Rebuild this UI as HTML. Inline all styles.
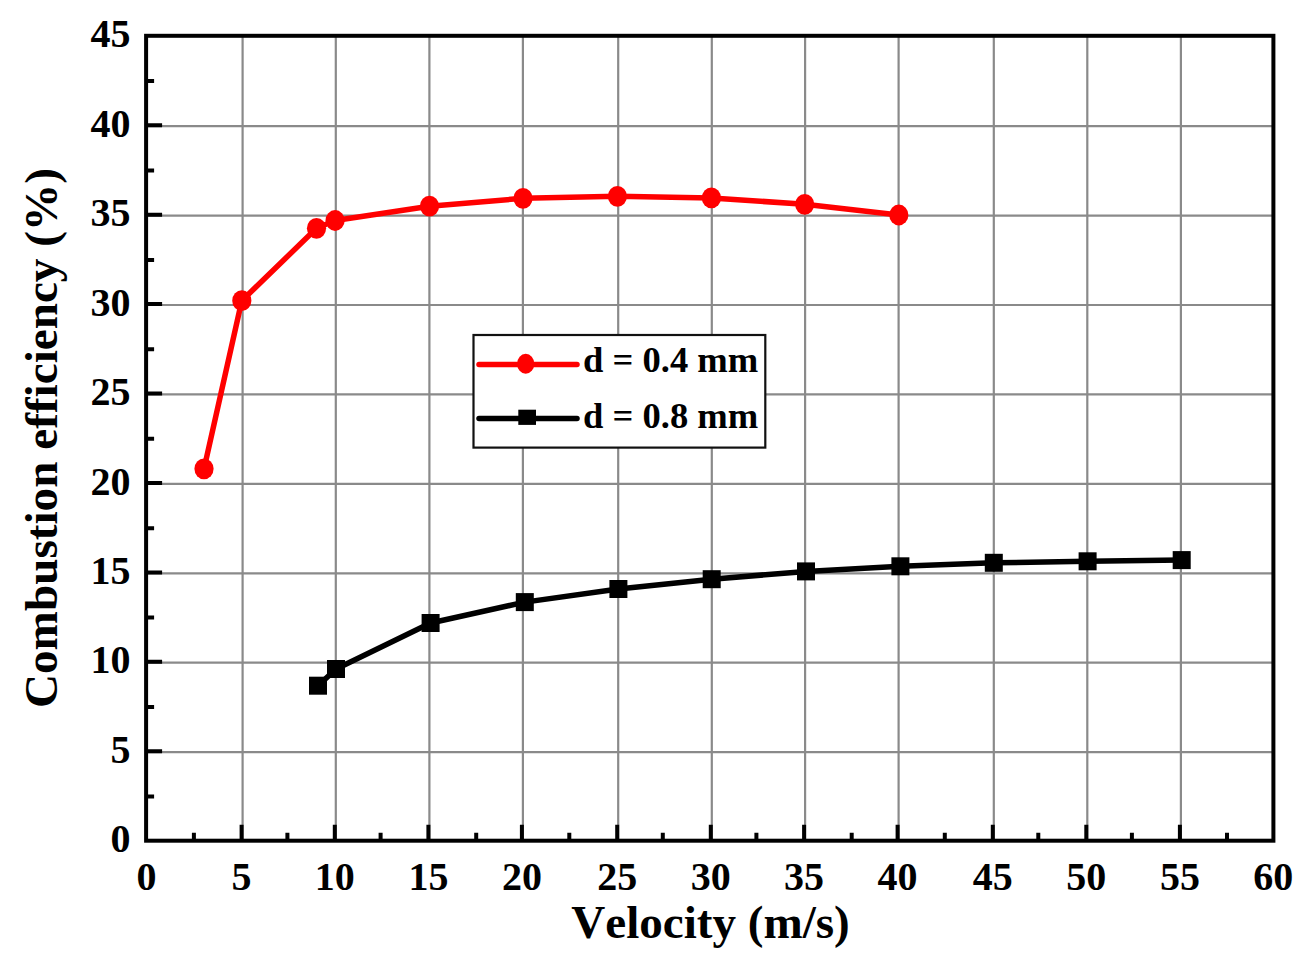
<!DOCTYPE html><html><head><meta charset="utf-8"><style>html,body{margin:0;padding:0;background:#fff;}svg{display:block;}text{font-family:"Liberation Serif",serif;font-weight:bold;fill:#000;font-kerning:none;font-variant-ligatures:none;}</style></head><body>
<svg width="1306" height="964" viewBox="0 0 1306 964">
<rect width="1306" height="964" fill="#fff"/>
<path d="M242.6 35.8V840.7 M335.8 35.8V840.7 M429.4 35.8V840.7 M522.9 35.8V840.7 M618.2 35.8V840.7 M711.8 35.8V840.7 M805.1 35.8V840.7 M898.6 35.8V840.7 M993.8 35.8V840.7 M1087.3 35.8V840.7 M1180.9 35.8V840.7 M146.1 752.2H1273.4 M146.1 662.7H1273.4 M146.1 573.3H1273.4 M146.1 483.9H1273.4 M146.1 394.4H1273.4 M146.1 305.0H1273.4 M146.1 215.6H1273.4 M146.1 126.1H1273.4" stroke="#8a8a8a" stroke-width="2.2" fill="none"/>
<polyline points="204.0,468.8 241.8,300.7 316.5,228.3 335.1,220.5 429.5,206.2 523.0,198.3 617.4,196.3 711.4,197.9 804.7,204.3 898.8,215.0" stroke="#ff0000" stroke-width="5.5" fill="none" stroke-linejoin="round"/>
<polyline points="318.0,685.7 336.0,669.0 430.6,623.0 524.8,602.1 618.4,589.0 711.7,579.2 806.0,571.4 900.4,566.3 993.8,562.8 1087.6,561.3 1181.7,560.1" stroke="#000" stroke-width="5.5" fill="none" stroke-linejoin="round"/>
<ellipse cx="204.0" cy="468.8" rx="9.6" ry="10.4" fill="#ff0000"/>
<ellipse cx="241.8" cy="300.7" rx="9.6" ry="10.4" fill="#ff0000"/>
<ellipse cx="316.5" cy="228.3" rx="9.6" ry="10.4" fill="#ff0000"/>
<ellipse cx="335.1" cy="220.5" rx="9.6" ry="10.4" fill="#ff0000"/>
<ellipse cx="429.5" cy="206.2" rx="9.6" ry="10.4" fill="#ff0000"/>
<ellipse cx="523.0" cy="198.3" rx="9.6" ry="10.4" fill="#ff0000"/>
<ellipse cx="617.4" cy="196.3" rx="9.6" ry="10.4" fill="#ff0000"/>
<ellipse cx="711.4" cy="197.9" rx="9.6" ry="10.4" fill="#ff0000"/>
<ellipse cx="804.7" cy="204.3" rx="9.6" ry="10.4" fill="#ff0000"/>
<ellipse cx="898.8" cy="215.0" rx="9.6" ry="10.4" fill="#ff0000"/>
<rect x="309.0" y="676.7" width="18" height="18" fill="#000"/>
<rect x="327.0" y="660.0" width="18" height="18" fill="#000"/>
<rect x="421.6" y="614.0" width="18" height="18" fill="#000"/>
<rect x="515.8" y="593.1" width="18" height="18" fill="#000"/>
<rect x="609.4" y="580.0" width="18" height="18" fill="#000"/>
<rect x="702.7" y="570.2" width="18" height="18" fill="#000"/>
<rect x="797.0" y="562.4" width="18" height="18" fill="#000"/>
<rect x="891.4" y="557.3" width="18" height="18" fill="#000"/>
<rect x="984.8" y="553.8" width="18" height="18" fill="#000"/>
<rect x="1078.6" y="552.3" width="18" height="18" fill="#000"/>
<rect x="1172.7" y="551.1" width="18" height="18" fill="#000"/>
<path d="M241.6 840.7V824.7 M334.8 840.7V824.7 M428.4 840.7V824.7 M521.9 840.7V824.7 M617.2 840.7V824.7 M710.8 840.7V824.7 M804.1 840.7V824.7 M897.6 840.7V824.7 M992.8 840.7V824.7 M1086.3 840.7V824.7 M1179.9 840.7V824.7 M193.9 840.7V832.7 M287.4 840.7V832.7 M380.6 840.7V832.7 M476.2 840.7V832.7 M569.3 840.7V832.7 M662.8 840.7V832.7 M756.4 840.7V832.7 M851.7 840.7V832.7 M944.8 840.7V832.7 M1038.3 840.7V832.7 M1131.9 840.7V832.7 M1227.0 840.7V832.7 M146.1 751.3H162.1 M146.1 661.8H162.1 M146.1 572.4H162.1 M146.1 483.0H162.1 M146.1 393.5H162.1 M146.1 304.1H162.1 M146.1 214.7H162.1 M146.1 125.2H162.1 M146.1 796.5H154.1 M146.1 707.0H154.1 M146.1 617.6H154.1 M146.1 528.2H154.1 M146.1 438.7H154.1 M146.1 349.3H154.1 M146.1 259.9H154.1 M146.1 170.4H154.1 M146.1 81.0H154.1" stroke="#000" stroke-width="4" fill="none"/>
<rect x="146.1" y="35.8" width="1127.3" height="804.9" stroke="#000" stroke-width="4.0" fill="none"/>
<rect x="473.5" y="335" width="291.8" height="112.6" fill="#fff" stroke="#111" stroke-width="2.2"/>
<line x1="479" y1="364.6" x2="577" y2="364.6" stroke="#ff0000" stroke-width="5.5" stroke-linecap="round"/>
<ellipse cx="525.7" cy="363.8" rx="8.6" ry="10" fill="#ff0000"/>
<line x1="479" y1="418.4" x2="577" y2="418.4" stroke="#000" stroke-width="5.5" stroke-linecap="round"/>
<rect x="518.3" y="409.7" width="17.7" height="15.2" fill="#000"/>
<text x="583" y="372.2" font-size="36.6">d = 0.4 mm</text>
<text x="583" y="428" font-size="36.6">d = 0.8 mm</text>
<text x="130.6" y="852.3" font-size="40" text-anchor="end">0</text>
<text x="130.6" y="762.9" font-size="40" text-anchor="end">5</text>
<text x="130.6" y="673.4" font-size="40" text-anchor="end">10</text>
<text x="130.6" y="584.0" font-size="40" text-anchor="end">15</text>
<text x="130.6" y="494.6" font-size="40" text-anchor="end">20</text>
<text x="130.6" y="405.1" font-size="40" text-anchor="end">25</text>
<text x="130.6" y="315.7" font-size="40" text-anchor="end">30</text>
<text x="130.6" y="226.3" font-size="40" text-anchor="end">35</text>
<text x="130.6" y="136.8" font-size="40" text-anchor="end">40</text>
<text x="130.6" y="47.4" font-size="40" text-anchor="end">45</text>
<text x="146.4" y="890.2" font-size="40" text-anchor="middle">0</text>
<text x="241.6" y="890.2" font-size="40" text-anchor="middle">5</text>
<text x="334.8" y="890.2" font-size="40" text-anchor="middle">10</text>
<text x="428.4" y="890.2" font-size="40" text-anchor="middle">15</text>
<text x="521.9" y="890.2" font-size="40" text-anchor="middle">20</text>
<text x="617.2" y="890.2" font-size="40" text-anchor="middle">25</text>
<text x="710.8" y="890.2" font-size="40" text-anchor="middle">30</text>
<text x="804.1" y="890.2" font-size="40" text-anchor="middle">35</text>
<text x="897.6" y="890.2" font-size="40" text-anchor="middle">40</text>
<text x="992.8" y="890.2" font-size="40" text-anchor="middle">45</text>
<text x="1086.3" y="890.2" font-size="40" text-anchor="middle">50</text>
<text x="1179.9" y="890.2" font-size="40" text-anchor="middle">55</text>
<text x="1273.2" y="890.2" font-size="40" text-anchor="middle">60</text>
<text x="710.5" y="938.2" font-size="47.1" text-anchor="middle">Velocity (m/s)</text>
<text transform="translate(56.6 438.1) rotate(-90)" x="0" y="0" font-size="47.2" text-anchor="middle">Combustion efficiency (%)</text>
</svg></body></html>
